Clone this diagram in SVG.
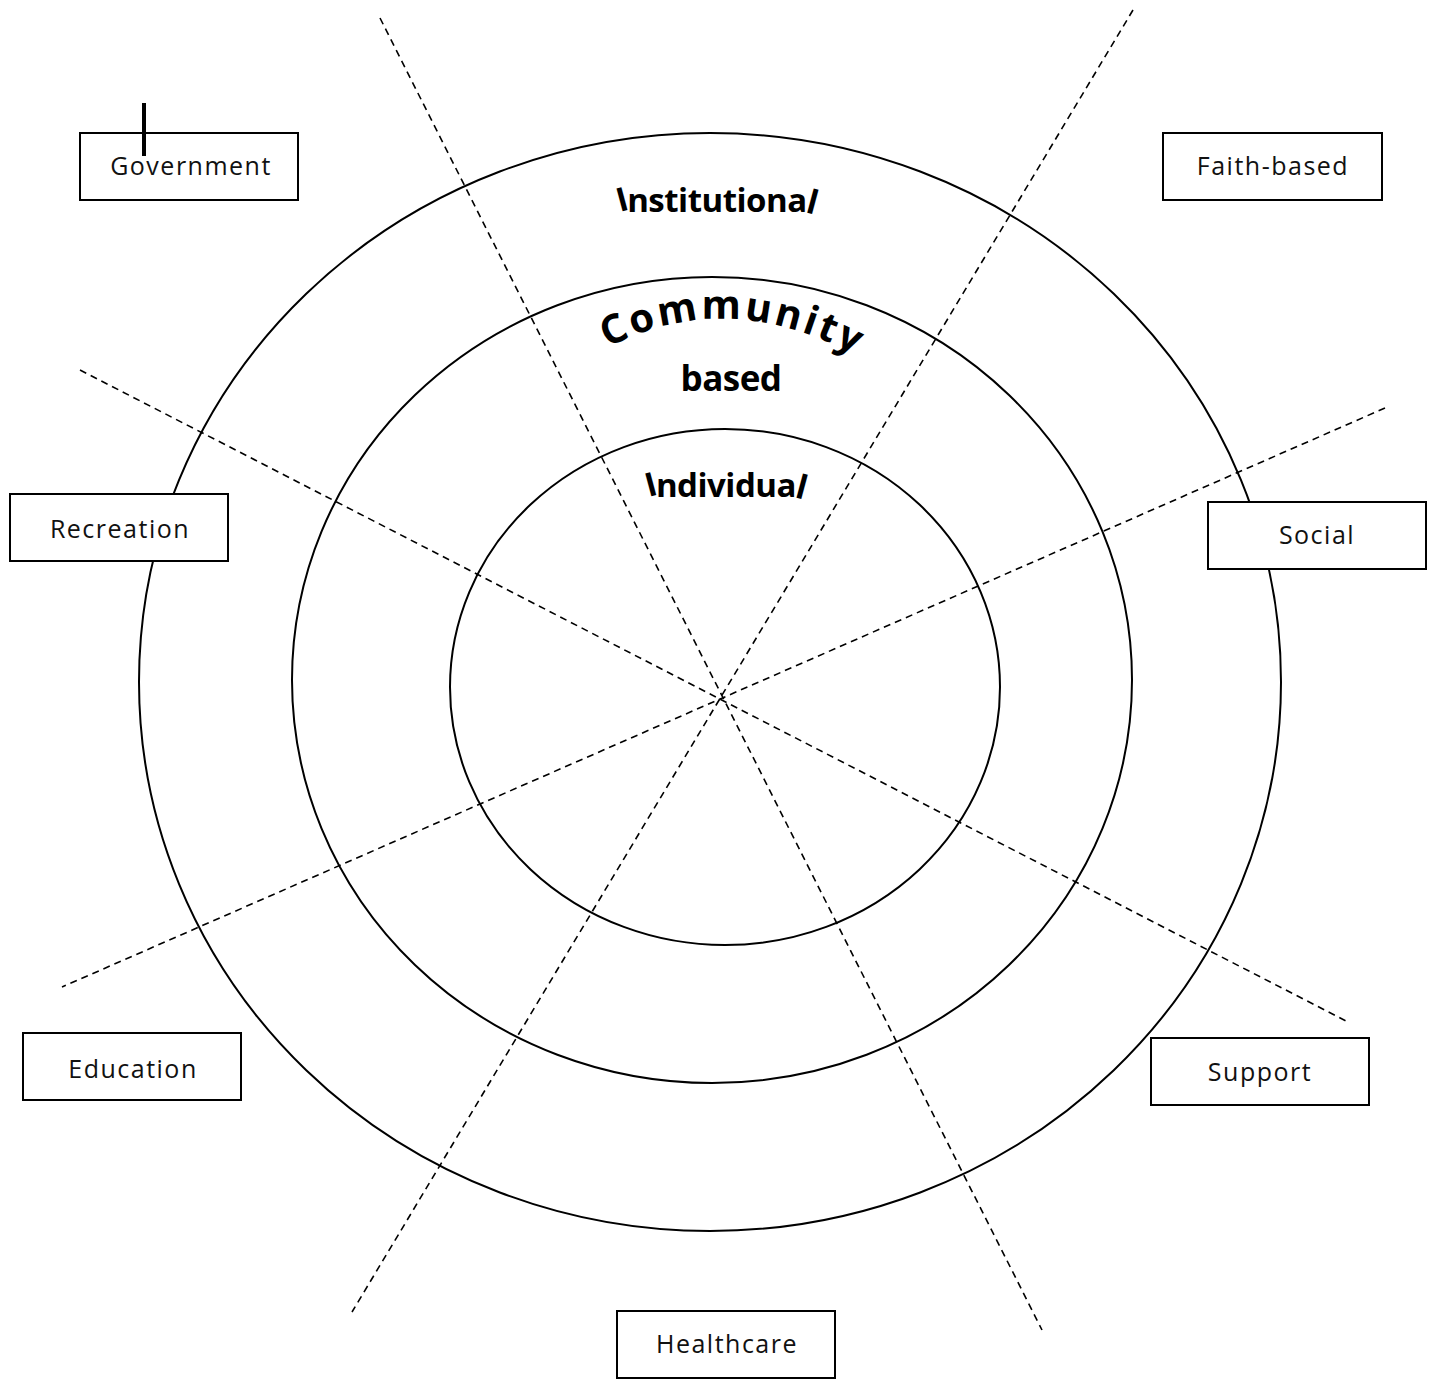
<svg xmlns="http://www.w3.org/2000/svg" width="1434" height="1382" viewBox="0 0 1434 1382">
<style>
.ring{fill:none;stroke:#000;stroke-width:2}
.div{stroke:#000;stroke-width:1.6;stroke-dasharray:7 5;fill:none}
.box rect{fill:#fff;stroke:#000;stroke-width:2}
.box text{font-family:"Open Sans","DejaVu Sans",sans-serif;font-size:25px;letter-spacing:1.5px;text-anchor:middle;fill:#111}
.lbl{font-family:"Open Sans","DejaVu Sans",sans-serif;font-weight:bold;fill:#000;text-anchor:middle}
</style>
<defs>
<path id="arc" d="M 600 352 Q 725 282 865 360"/>
</defs>
<rect width="1434" height="1382" fill="#fff"/>
<g id="rings">
<ellipse class="ring" cx="710" cy="682" rx="571" ry="549"/>
<ellipse class="ring" cx="712" cy="680" rx="420" ry="403"/>
<ellipse class="ring" cx="725" cy="687" rx="275" ry="258"/>
</g>
<g id="connectors">
<line class="div" x1="380" y1="18" x2="1042" y2="1330"/>
<line class="div" x1="1133" y1="10" x2="352" y2="1312"/>
<line class="div" x1="80" y1="370" x2="1348" y2="1022"/>
<line class="div" x1="1385" y1="408" x2="62" y2="987"/>
</g>
<g id="labels">
<text class="lbl" x="717" y="212" font-size="33" letter-spacing="-0.5" rotate="-15 0 0 0 0 0 0 0 0 0 0 0 15" dx="0 -3 0 0 0 0 0 0 0 0 0 0 -2">Institutional</text>
<text class="lbl" font-size="40" letter-spacing="3"><textPath href="#arc" startOffset="50%">Community</textPath></text>
<text class="lbl" x="731" y="391" font-size="35" letter-spacing="-0.5">based</text>
<text class="lbl" x="726" y="497" font-size="33" letter-spacing="-0.5" rotate="-15 0 0 0 0 0 0 0 0 15" dx="0 -3 0 0 0 0 0 0 0 -2">Individual</text>
</g>
<g id="government" class="box"><rect x="80" y="133" width="218" height="67"/><text x="191" y="175">Government</text></g>
<line x1="144" y1="103" x2="144" y2="156" stroke="#000" stroke-width="4"/>
<g id="faith-based" class="box"><rect x="1163" y="133" width="219" height="67"/><text x="1273" y="175">Faith-based</text></g>
<g id="recreation" class="box"><rect x="10" y="494" width="218" height="67"/><text x="120" y="538">Recreation</text></g>
<g id="social" class="box"><rect x="1208" y="502" width="218" height="67"/><text x="1317" y="544">Social</text></g>
<g id="education" class="box"><rect x="23" y="1033" width="218" height="67"/><text x="133" y="1078">Education</text></g>
<g id="support" class="box"><rect x="1151" y="1038" width="218" height="67"/><text x="1260" y="1081">Support</text></g>
<g id="healthcare" class="box"><rect x="617" y="1311" width="218" height="67"/><text x="727" y="1353">Healthcare</text></g>
</svg>
